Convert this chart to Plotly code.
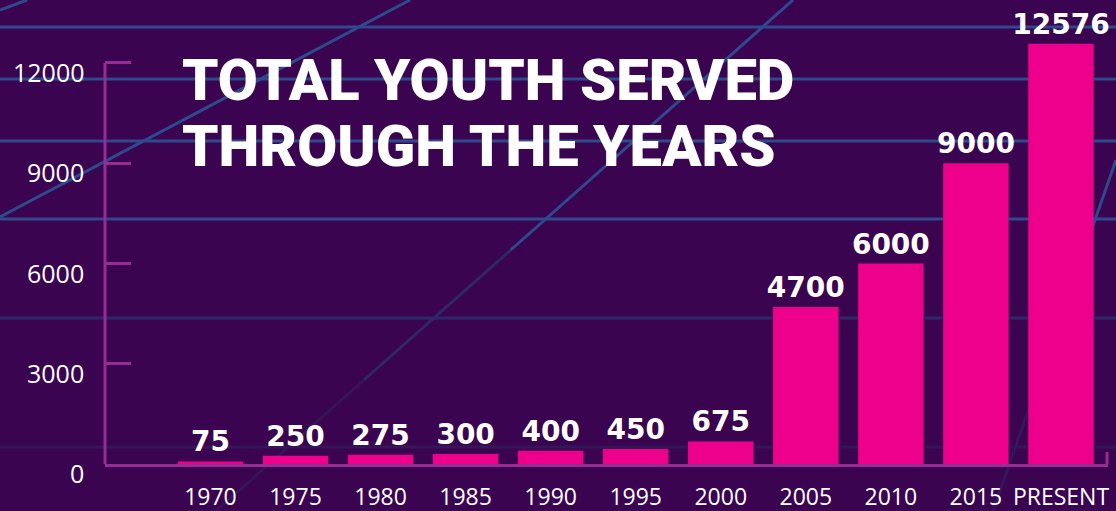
import plotly.graph_objects as go

# ---------------- data ----------------
categories = ["1970", "1975", "1980", "1985", "1990", "1995", "2000",
              "2005", "2010", "2015", "PRESENT"]
youth_served = [75, 250, 275, 300, 400, 450, 675, 4700, 6000, 9000, 12576]
y_tick_values = [0, 3000, 6000, 9000, 12000]
y_tick_labels = ["0", "3000", "6000", "9000", "12000"]
title_lines = ["TOTAL YOUTH SERVED", "THROUGH THE YEARS"]

# ---------------- style ----------------
BG = "#3a0450"
PINK = "#ec008c"
AXIS = "#962d92"
BLUE = "#2e4a8c"
BLUE_DIM = "#2e2868"
BLUE_FAINT = "#351658"

W, H = 1116, 511
ML, MR, MT, MB = 105, 8, 0, 47
PW, PH = W - ML - MR, H - MT - MB


def px(x):
    return (x - ML) / PW


def py(y):
    return (H - MB - y) / PH


fig = go.Figure()
fig.add_bar(
    x=categories,
    y=youth_served,
    text=[str(v) for v in youth_served],
    textposition="outside",
    constraintext="none",
    cliponaxis=False,
    textfont=dict(family="DejaVu Sans", size=28, color="white", weight="bold"),
    marker=dict(color=PINK, line=dict(width=0)),
    hoverinfo="skip",
)

# decorative background lines (pixel geometry of the backdrop)
shapes = []
for yy, col in [(27, BLUE), (79, BLUE), (141, BLUE), (219, BLUE),
                (318, BLUE_DIM), (447, BLUE_FAINT)]:
    shapes.append(dict(type="line", xref="paper", yref="paper",
                       x0=px(0), x1=px(W), y0=py(yy), y1=py(yy),
                       line=dict(color=col, width=3), layer="below"))


def diag(x0, y0, x1, y1, segs):
    out = []
    ys = y0
    xs = x0
    for ye, col in segs:
        t = (ye - y0) / (y1 - y0)
        xe = x0 + t * (x1 - x0)
        out.append(dict(type="line", xref="paper", yref="paper",
                        x0=px(xs), y0=py(ys), x1=px(xe), y1=py(ye),
                        line=dict(color=col, width=3), layer="below"))
        xs, ys = xe, ye
    return out


shapes += diag(0, 217, 410, 0, [(0, BLUE)])
shapes += diag(0, 10, 27, 0, [(0, BLUE)])
shapes += diag(793, 0, 216, 511, [(250, BLUE), (380, BLUE_DIM), (511, BLUE_FAINT)])
shapes += diag(1116, 160, 993, 511, [(260, BLUE), (380, BLUE_DIM), (511, BLUE_FAINT)])

# y axis spine up to top tick, and small end tick on the x axis
shapes.append(dict(type="line", xref="paper", yref="y", x0=0, x1=0,
                   y0=0, y1=max(y_tick_values),
                   line=dict(color=AXIS, width=3), layer="above"))
shapes.append(dict(type="line", xref="paper", yref="paper",
                   x0=px(1107), x1=px(1107), y0=0, y1=py(452),
                   line=dict(color=AXIS, width=3), layer="above"))

annotations = []
for v, lab in zip(y_tick_values, y_tick_labels):
    annotations.append(dict(xref="paper", yref="y", x=0, y=v, text=lab,
                            xanchor="right", yanchor="middle", xshift=-19, yshift=-9,
                            showarrow=False,
                            font=dict(family="Open Sans", size=25, color="white")))
for i, line in enumerate(title_lines):
    annotations.append(dict(xref="paper", yref="paper", x=px(180),
                            y=py(79.5 + 67 * i), text=line,
                            xanchor="left", yanchor="middle", showarrow=False,
                            font=dict(family="Roboto", size=58,
                                      color="white", weight=900)))

fig.update_layout(
    width=W, height=H, autosize=False,
    margin=dict(l=ML, r=MR, t=MT, b=MB, pad=0, autoexpand=False),
    paper_bgcolor=BG, plot_bgcolor="rgba(0,0,0,0)",
    showlegend=False,
    bargap=0.23,
    shapes=shapes,
    annotations=annotations,
    xaxis=dict(type="category", range=[-1.24, 10.553], showgrid=False,
               zeroline=False, showline=True, linecolor=AXIS, linewidth=3,
               ticks="", ticklabelstandoff=10, automargin=False,
               tickfont=dict(family="Open Sans", size=23, color="white"),
               fixedrange=True),
    yaxis=dict(range=[0, 13885], showgrid=False, zeroline=False, showline=False,
               ticks="inside", ticklen=26, tickwidth=3, tickcolor=AXIS,
               tickvals=y_tick_values, showticklabels=False, automargin=False,
               fixedrange=True),
)

post = (
    "var de=document.documentElement,b=document.body;"
    "de.style.margin='0';de.style.padding='0';de.style.overflow='hidden';"
    "de.style.background='" + BG + "';"
    "b.style.margin='0';b.style.padding='0';b.style.overflow='hidden';"
)

fig.write_html(
    "out.html",
    config={"displayModeBar": False},
    post_script=post,
)
